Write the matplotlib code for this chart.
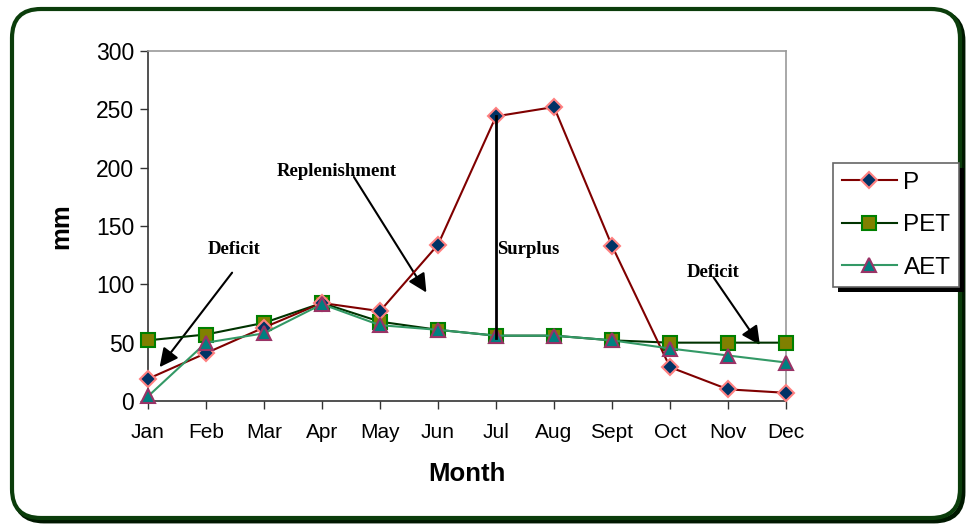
import matplotlib
matplotlib.use("Agg")
import matplotlib.pyplot as plt
from matplotlib.patches import FancyBboxPatch, Rectangle

plt.rcParams["font.family"] = ["Liberation Sans", "DejaVu Sans"]

months = ["Jan", "Feb", "Mar", "Apr", "May", "Jun", "Jul", "Aug", "Sept", "Oct", "Nov", "Dec"]
p_vals = [19, 41, 63, 84, 77, 134, 244, 252, 133, 29, 10, 7]
pet_vals = [52, 57, 67, 84, 68, 61, 56, 56, 52, 50, 50, 50]
aet_vals = [4, 50, 58, 83, 65, 61, 56, 56, 52, 45, 39, 33]
y_ticks = [0, 50, 100, 150, 200, 250, 300]

W, H = 966, 526
fig = plt.figure(figsize=(W / 100, H / 100), dpi=100)
fig.patch.set_facecolor("white")

def px(x, y):
    return x / W, 1 - y / H

shadow = FancyBboxPatch(px(15, 521), (963 - 15) / W, (521 - 12) / H,
                        boxstyle="round,pad=0,rounding_size=0.03",
                        transform=fig.transFigure, facecolor="none",
                        edgecolor="#001800", lw=3.5, zorder=0, mutation_aspect=W / H)
fig.patches.append(shadow)
frame = FancyBboxPatch(px(12, 518), (960 - 12) / W, (518 - 9) / H,
                       boxstyle="round,pad=0,rounding_size=0.03",
                       transform=fig.transFigure, facecolor="white",
                       edgecolor="#0b3d0b", lw=3, zorder=0.5, mutation_aspect=W / H)
fig.patches.append(frame)

left, right, top, bottom = 148 / W, 786 / W, 1 - 51 / H, 1 - 401 / H
ax = fig.add_axes([left, bottom, right - left, top - bottom])
ax.set_zorder(2)
ax.set_facecolor("none")
x = list(range(len(months)))

ax.plot(x, p_vals, color="#800000", lw=1.5, marker="D", markersize=8,
        markerfacecolor="#003366", markeredgecolor="#FF8080", markeredgewidth=1.5,
        label="P", clip_on=False, zorder=5)
ax.plot(x, pet_vals, color="#003300", lw=1.5, marker="s", markersize=10,
        markerfacecolor="#808000", markeredgecolor="#008000", markeredgewidth=1.5,
        label="PET", clip_on=False, zorder=4)
ax.plot(x, aet_vals, color="#339966", lw=1.5, marker="^", markersize=10,
        markerfacecolor="#008080", markeredgecolor="#993366", markeredgewidth=1.5,
        label="AET", clip_on=False, zorder=6)

ax.set_xlim(0, 11)
ax.set_ylim(0, 300)
ax.set_xticks(x)
ax.set_xticklabels(months)
ax.set_yticks(y_ticks)
ax.tick_params(axis="x", labelsize=15, direction="out", length=6, width=1,
               color="#333333", pad=10)
ax.tick_params(axis="y", labelsize=16.5, direction="out", length=6, width=1,
               color="#333333", pad=4)
for s in ["left", "bottom"]:
    ax.spines[s].set_color("#333333")
    ax.spines[s].set_linewidth(1.2)
for s in ["top", "right"]:
    ax.spines[s].set_color("#999999")
    ax.spines[s].set_linewidth(1.2)

ax.set_xlabel("Month", fontsize=18.5, fontweight="bold", labelpad=14)
ax.set_ylabel("mm", fontsize=18.5, fontweight="bold", labelpad=16)

serif = dict(family="Liberation Serif", fontweight="bold", fontsize=13.5)
arrow = dict(arrowstyle="-|>", color="black", lw=1.5, mutation_scale=28,
             shrinkA=0, shrinkB=0)

ax.annotate("", xy=(0.2, 29), xytext=(1.45, 110), arrowprops=arrow)
ax.text(1.48, 130, "Deficit", ha="center", va="center", **serif)

ax.annotate("", xy=(4.8, 93), xytext=(3.55, 192), arrowprops=arrow)
ax.text(3.25, 197, "Replenishment", ha="center", va="center", **serif)

ax.plot([6, 6], [244, 54], color="black", lw=2, zorder=7)
ax.text(6.02, 130, "Surplus", ha="left", va="center", **serif)

ax.annotate("", xy=(10.55, 48), xytext=(9.75, 106), arrowprops=arrow)
ax.text(9.75, 110, "Deficit", ha="center", va="center", **serif)

leg = fig.legend(loc="upper left", bbox_to_anchor=(833 / W, 1 - 163 / H),
                 fontsize=17.5, frameon=True, fancybox=False, edgecolor="#666666",
                 framealpha=1, handlelength=2.3, labelspacing=0.85, borderpad=0.35,
                 handletextpad=0.25, borderaxespad=0)
leg.get_frame().set_linewidth(1.2)
leg.set_zorder(10)

fig.canvas.draw()
bb = leg.get_window_extent()
sh = Rectangle(((bb.x0 + 5) / W, (bb.y0 - 5) / H), bb.width / W, bb.height / H,
               transform=fig.transFigure, facecolor="black", edgecolor="none", zorder=9)
fig.patches.append(sh)

fig.savefig("out.png", dpi=100)
